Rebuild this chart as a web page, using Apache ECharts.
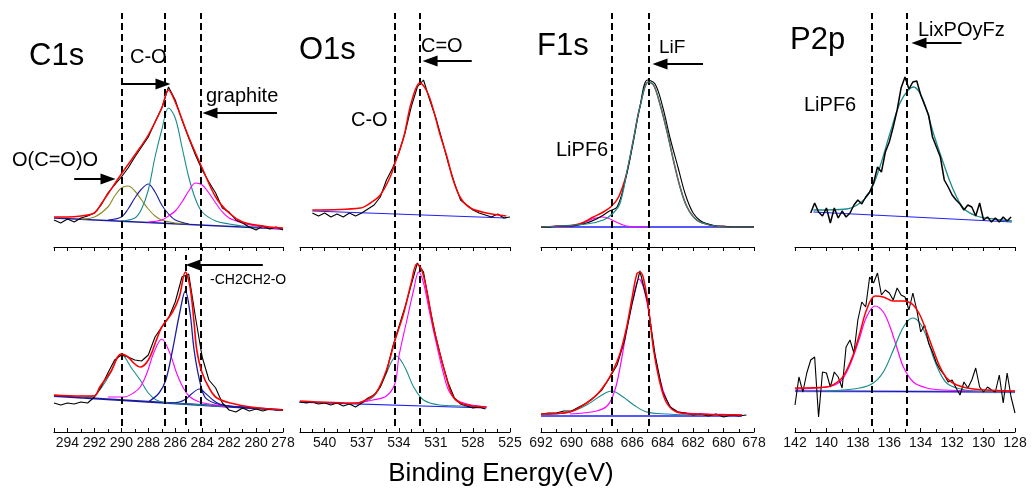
<!DOCTYPE html>
<html><head><meta charset="utf-8">
<script src="https://cdn.jsdelivr.net/npm/echarts@6/dist/echarts.min.js"></script>
<style>html,body{margin:0;padding:0;background:#fff}#c{width:1034px;height:493px}</style>
</head><body><div id="c"></div>
<script>
// ---------- C1s ----------
const c1sEnergy = [295,294.5,294,293.5,293,292.5,292,291.5,291,290.5,290,289.5,289,288.5,288,287.5,287,286.5,286,285.5,285,284.5,284,283.5,283,282.5,282,281.5,281,280.5,280,279.5,279,278.5,278];
const c1sTopRaw = [27,24,28,25,29,31,34,42,54,62,70,79,90,100,110,125,139,160,147,127,109,92,77,65,54,39,35,27,24,20,17,21,18,20,17];
const c1sTopEnvelope = [[295,30],[294,30],[293,31],[292,34],[291.5,43],[291,53],[290,73],[289,92],[288,112],[287,139],[286.5,157],[286,145],[285,110],[284,79],[283,50],[282,34],[281,25],[280,22],[279,20],[278,19]];
const c1sTopBaseline = [[295,29],[278,18]];
const c1sTopOCOO = [[293,28],[292,30],[291,40],[290.5,51],[290,59],[289.5,61],[289,56],[288.5,47],[288,38],[287.5,31],[287,27],[286,24],[285,23]];
const c1sTopPeak288 = [[291,27],[290,30],[289.5,38],[289,49],[288.5,58],[288,63],[287.5,55],[287,42],[286.5,33],[286,27],[285,23]];
const c1sTopCO = [[290,26],[289,29],[288.5,38],[288,57],[287.5,90],[287,117],[286.5,139],[286,129],[285.5,100],[285,70],[284.5,48],[284,35],[283,26],[282,23],[281,21],[280,20],[279,19]];
const c1sTopGraphite = [[288,25],[287,27],[286.5,31],[286,36],[285.5,45],[285,56],[284.5,64],[284,62],[283.5,54],[283,44],[282.5,35],[282,29],[281,24],[280,21],[279,19],[278,18]];

const c1sBotRaw = [29,27,29,28,30,29,35,45,59,72,77,75,72,71,77,95,105,114,130,155,158,115,75,52,44,29,22,20,24,21,23,21,23,22,22];
const c1sBotEnvelope = [[295,37],[293,36],[292,36],[291.6,45],[290.8,60],[290,78],[289.5,75],[289,68],[288.6,65],[288,72],[287.4,92],[287,105],[286.2,120],[285.7,135],[285.25,160],[284.9,145],[284.6,109],[284.4,82],[284,59],[283.4,42],[282.9,34],[281.9,29],[280.4,25],[278,22]];
const c1sBotBaseline = [[295,36],[278,22]];
const c1sBotOCOO = [[293,35],[292.1,36],[291.6,42],[290.8,59],[290.4,72],[290,78],[289.7,74],[289.3,65],[288.6,52],[288,39],[287.4,32],[286.5,29],[285,28],[284,27],[282,25]];
const c1sBotCO = [[291,35],[289.8,35],[289.1,39],[288.6,45],[288.1,59],[287.6,79],[287,93],[286.4,79],[285.9,59],[285.4,44],[284.9,35],[284.2,30],[283,27],[282,25]];
const c1sBotCH2 = [[288,30],[287.2,39],[286.7,52],[286.2,82],[285.67,119],[285.25,141],[284.9,119],[284.6,82],[284.2,52],[283.8,35],[283.1,29],[282,26],[281,25],[280,24]];
const c1sBotGraphite = [[286.5,29],[285.7,30],[285.2,33],[284.8,38],[284.2,43],[283.7,38],[283.2,32],[282.7,28],[281.5,25],[280,24]];

// ---------- O1s ----------
const o1sEnergy = [542,541.5,541,540.5,540,539.5,539,538.5,538,537.5,537,536.5,536,535.5,535,534.5,534,533.5,533,532.5,532,531.5,531,530.5,530,529.5,529,528.5,528,527.5,527,526.5,526,525.5,525];
const o1sTopRaw = [null,null,34,31,34,30,33,30,34,31,34,38,42,50,67,79,94,114,140,160,167,147,129,107,84,64,47,42,37,34,32,30,33,29,30];
const o1sTopEnvelope = [[541,37],[537.1,39],[536.3,44],[535.5,52],[534.7,70],[534.3,84],[533.6,110],[533,144],[532.3,164],[531.7,155],[531.2,137],[530.7,114],[530.1,90],[529.6,67],[529,49],[528.2,39],[526.9,34],[525.3,31]];
const o1sTopBaseline = [[541,36],[525.3,29]];
const o1sBotRaw = [30,29,30,28,29,27,29,26,28,25,29,34,37,45,60,85,105,125,147,169,160,125,95,70,49,34,28,26,24,25,23,null,null,null,null];
const o1sBotEnvelope = [[542,31],[537.4,29],[536.5,33],[535.8,40],[535,62],[534.3,92],[533.6,119],[533,149],[532.55,168],[532.15,162],[531.7,139],[531.2,105],[530.6,75],[530.1,52],[529.6,35],[528.8,28],[526.9,25]];
const o1sBotBaseline = [[542.3,30],[526.9,24]];
const o1sBotCO = [[538,28],[536.6,31],[535.8,39],[535,59],[534.6,70],[534.2,76],[533.8,71],[533.4,62],[532.8,45],[532,32],[530.7,27],[529,26],[527,25]];
const o1sBotCdO = [[538,28],[536.1,32],[535,36],[534.3,49],[534,75],[533.4,109],[532.8,142],[532.4,160],[532,149],[531.5,119],[530.9,85],[530.4,59],[529.9,40],[529,30],[526.9,25]];

// ---------- F1s ----------
const f1sEnergy = [692,691.5,691,690.5,690,689.5,689,688.5,688,687.5,687,686.5,686,685.5,685,684.5,684,683.5,683,682.5,682,681.5,681,680.5,680,679.5,679,678.5,678];
const f1sTopRaw = [20,20,21,21,21,22,24,27,31,36,40,64,100,140,167,163,140,108,80,52,34,26,23,21,21,20,20,20,20];
const f1sTopEnvelope = [[692,20],[690.5,21],[689.5,23],[688.56,30],[687.9,35],[687.35,41],[686.9,50],[686.4,72],[685.93,107],[685.5,140],[684.94,165],[684.6,162],[684.2,144],[683.74,117],[683.3,87],[682.86,60],[682.4,40],[681.77,27],[680.9,22],[679.8,20],[678,20]];
const f1sTopLiF = [[692,20],[689,23],[687.9,27],[687.25,34],[686.8,44],[686.37,74],[685.93,107],[685.5,140],[684.94,165],[684.6,162],[684.2,144],[683.74,117],[683.3,87],[682.86,60],[682.4,40],[681.77,27],[680.9,22],[679.8,20],[678,20]];
const f1sTopLiPF6 = [[691,20],[690.1,21],[689.4,23],[688.6,28],[688,30],[687.6,29],[687.2,26],[686.4,21],[685,20]];
const f1sTopBaseline = [[692,20],[678,20]];
const f1sBotRaw = [18,19,19,21,21,25,29,35,42,54,67,92,129,161,130,77,40,25,20,19,17,18,16,18,15,17,16,17,null];
const f1sBotEnvelope = [[692,18],[690.1,20],[689,29],[688.34,37],[687.68,50],[687.25,62],[686.8,79],[686.37,105],[686.04,132],[685.7,158],[685.5,160],[685.27,154],[684.94,125],[684.6,82],[684.18,49],[683.74,29],[683.08,20],[682,18],[678.8,17]];
const f1sBotMain = [[690.1,18],[688.34,21],[687.6,27],[687.14,42],[686.8,65],[686.37,102],[685.93,135],[685.55,153],[685.27,145],[684.94,122],[684.6,85],[684.18,52],[683.74,32],[683.3,22],[682.4,19],[681,18],[678.8,17]];
const f1sBotLiPF6 = [[692,17],[691.2,18],[690.1,20],[689,27],[688,37],[687.35,41],[686.6,35],[685.9,27],[685.05,20],[683.7,18],[682,17],[678.8,17]];
const f1sBotBaseline = [[692,16],[678.8,16]];

// ---------- P2p ----------
const p2pEnergy = [142,141.75,141.5,141.25,141,140.75,140.5,140.25,140,139.75,139.5,139.25,139,138.75,138.5,138.25,138,137.75,137.5,137.25,137,136.75,136.5,136.25,136,135.75,135.5,135.25,135,134.75,134.5,134.25,134,133.75,133.5,133.25,133,132.75,132.5,132.25,132,131.75,131.5,131.25,131,130.75,130.5,130.25,130,129.75,129.5,129.25,129,128.75,128.5,128.25,128];
const p2pTopRaw = [null,null,null,null,34,44,35,31,39,24,39,29,36,30,34,42,47,43,50,55,64,80,75,95,105,120,137,159,170,158,165,166,152,142,132,110,100,90,67,60,52,47,43,37,42,40,31,44,27,30,25,29,25,30,26,30,null];
const p2pTopFit = [[140.83,37],[138.71,38],[137.86,44],[137.23,55],[136.6,80],[135.95,114],[135.32,144],[134.79,157],[134.47,160],[134.05,154],[133.62,137],[133.2,114],[132.56,84],[131.92,57],[131.29,39],[130.44,31],[129.38,28],[128.2,26]];
const p2pTopBaseline = [[140.83,35],[128.2,25]];
const p2pBotRaw = [27,55,40,59,72,75,15,60,59,45,60,55,44,85,92,79,112,130,125,155,149,159,137,142,139,132,144,137,135,122,139,122,100,107,89,80,69,62,57,50,52,44,37,50,44,52,64,45,40,45,42,40,57,29,59,35,19];
const p2pBotEnvelope = [[142,44],[139.98,45],[139.14,52],[138.71,62],[138.3,77],[137.87,99],[137.45,122],[136.91,136],[136.38,135],[135.74,131],[135.1,131],[134.79,130],[134.47,127],[134.05,117],[133.62,100],[133.2,82],[132.77,65],[132.35,54],[131.71,47],[130.65,43],[128,41]];
const p2pBotLiPF6 = [[142,43],[139.98,45],[139.14,50],[138.71,60],[138.3,75],[137.87,95],[137.45,115],[136.91,126],[136.38,120],[135.95,105],[135.53,85],[135.1,65],[134.47,50],[133.62,44],[132.56,42],[128,40]];
const p2pBotLixPOyFz = [[139.98,41],[137.87,44],[137.02,49],[136.38,60],[135.74,82],[135.1,105],[134.51,114],[134.05,109],[133.62,95],[133.2,75],[132.77,59],[132.35,49],[131.71,44],[130.65,41],[128,40]];
const p2pBotBaseline = [[142,41],[128,40]];

// reference positions (eV)
const c1sRefs = [290, 286.75, 284.09];
const c1sBotRef = [285.2];
const o1sRefs = [534.3, 532.3];
const f1sRefs = [687.35, 684.95];
const p2pRefs = [137.1, 134.87];

// axis ranges [min, max, interval, minor split]
const c1sAxis = [278, 295, 2, 2];
const o1sAxis = [525, 542, 3, 3];
const f1sAxis = [678, 692, 2, 2];
const p2pAxis = [128, 142, 2, 2];

const FONT = "'Liberation Sans', Arial, sans-serif";
const COL = {black:'#000000', red:'#ff0000', teal:'#1a8c8c', magenta:'#ff00ff', navy:'#1c1ca0', olive:'#8c8c1c', blue:'#2020ff', lav:'#a0a0ff'};

const cols = [
  {left:54, width:229, ax:c1sAxis, hideMax:true},
  {left:300, width:210, ax:o1sAxis, hideMax:true},
  {left:541, width:213, ax:f1sAxis, hideMax:false},
  {left:795, width:220, ax:p2pAxis, hideMax:false}
];
const TOP = {top:14, height:233};
const BOT = {top:252, height:180};
const OVL = {top:13, height:413};

const grids = [], xAxes = [], yAxes = [];
function addAxes(kind, geo) {
  cols.forEach(c => {
    const gi = grids.length;
    grids.push({left:c.left, width:c.width, top:geo.top, height:geo.height, containLabel:false});
    const ax = {type:'value', gridIndex:gi, min:c.ax[0], max:c.ax[1], interval:c.ax[2], inverse:true, splitLine:{show:false}};
    if (kind === 'ovl') { ax.show = false; }
    else {
      ax.axisLine = {show:true, onZero:false, lineStyle:{color:'#000', width:1}};
      ax.axisTick = {show:true, inside: kind==='bot', length:4, lineStyle:{color:'#000', width:1}};
      ax.minorTick = {show:true, splitNumber:c.ax[3], length:3, lineStyle:{color:'#000', width:1}};
      ax.axisLabel = {show: kind==='bot', fontSize:14, color:'#111', margin:4, fontFamily:FONT, showMaxLabel: !c.hideMax, showMinLabel:true};
    }
    xAxes.push(ax);
    yAxes.push({type:'value', gridIndex:gi, min:0, max:geo.height, show:false});
  });
}
addAxes('top', TOP); addAxes('bot', BOT); addAxes('ovl', OVL);

const S = [];
function zip(E, v) { return E.map((e, i) => [e, v[i]]); }
function L(gi, data, color, width, z, smooth, extra) {
  const s = {type:'line', xAxisIndex:gi, yAxisIndex:gi, data:data, symbol:'none', showSymbol:false,
    smooth: smooth ? 0.35 : false, lineStyle:{color:color, width:width}, z:z, silent:true, connectNulls:false, animation:false};
  if (extra) Object.assign(s, extra);
  S.push(s);
}
function arrows(list) {
  return {markLine:{silent:true, animation:false, symbol:['none','triangle'], symbolSize:[11,15],
    label:{show:false}, lineStyle:{color:'#000', width:2, type:'solid'},
    data: list.map(a => [{coord:[a[0], a[2]]}, {coord:[a[1], a[2]]}])}};
}
// arrows: [fromE, toE, y]
const c1sTopArrows = [[289.9, 286.91, 163], [278.45, 283.42, 134], [293.5, 290.99, 68]];
const c1sBotArrows = [[279.5, 284.68, 167]];
const o1sTopArrows = [[528.1, 531.47, 186]];
const f1sTopArrows = [[681.35, 684.18, 183]];
const p2pTopArrows = [[131.4, 134.11, 204]];

// C1s top (grid 0)
L(0, c1sTopBaseline, COL.navy, 1.6, 2, false, arrows(c1sTopArrows));
L(0, c1sTopOCOO, COL.olive, 1.1, 3, true);
L(0, c1sTopPeak288, COL.navy, 1.1, 3, true);
L(0, c1sTopCO, COL.teal, 1.1, 3, true);
L(0, c1sTopGraphite, COL.magenta, 1.1, 3, true);
L(0, zip(c1sEnergy, c1sTopRaw), COL.black, 1.1, 4, false);
L(0, c1sTopEnvelope, COL.red, 1.5, 5, true);
// C1s bottom (grid 4)
L(4, c1sBotBaseline, COL.navy, 1.8, 2, false, arrows(c1sBotArrows));
L(4, c1sBotOCOO, COL.teal, 1.1, 3, true);
L(4, c1sBotCO, COL.magenta, 1.1, 3, true);
L(4, c1sBotCH2, COL.navy, 1.3, 3, true);
L(4, c1sBotGraphite, COL.navy, 1.1, 3, true);
L(4, zip(c1sEnergy, c1sBotRaw), COL.black, 1.1, 4, false);
L(4, c1sBotEnvelope, COL.red, 1.6, 5, true);
S.push({type:'line', xAxisIndex:4, yAxisIndex:4, data:[], z:10, silent:true,
  markLine:{silent:true, animation:false, symbol:'none', label:{show:false}, lineStyle:{color:'#000', width:2, type:[7,4]},
    data: c1sBotRef.map(e => [{coord:[e, 7]}, {coord:[e, 177]}])}});

// O1s top (grid 1)
L(1, o1sTopBaseline, COL.blue, 1.2, 2, false, arrows(o1sTopArrows));
L(1, zip(o1sEnergy, o1sTopRaw), COL.black, 1.1, 4, false);
L(1, o1sTopEnvelope, COL.red, 1.5, 5, true);
// O1s bottom (grid 5)
L(5, o1sBotBaseline, COL.blue, 1.2, 2, false);
L(5, o1sBotCO, COL.teal, 1.1, 3, true);
L(5, o1sBotCdO, COL.magenta, 1.1, 3, true);
L(5, zip(o1sEnergy, o1sBotRaw), COL.black, 1.1, 4, false);
L(5, o1sBotEnvelope, COL.red, 1.5, 5, true);

// F1s top (grid 2)
L(2, f1sTopBaseline, COL.blue, 1.6, 2, false, arrows(f1sTopArrows));
L(2, f1sTopLiPF6, COL.magenta, 1.1, 3, true);
L(2, f1sTopEnvelope, COL.red, 1.5, 4, true);
L(2, zip(f1sEnergy, f1sTopRaw), COL.black, 1.1, 5, true);
L(2, f1sTopLiF, COL.teal, 1.2, 6, true);
// F1s bottom (grid 6)
L(6, f1sBotBaseline, COL.blue, 1.6, 2, false);
L(6, f1sBotLiPF6, COL.teal, 1.1, 3, true);
L(6, f1sBotMain, COL.magenta, 1.2, 3, true);
L(6, zip(f1sEnergy, f1sBotRaw), COL.black, 1.1, 4, false);
L(6, f1sBotEnvelope, COL.red, 1.5, 5, true);

// P2p top (grid 3)
L(3, p2pTopBaseline, COL.blue, 1.2, 2, false, arrows(p2pTopArrows));
L(3, p2pTopFit, COL.teal, 1.3, 3, true);
L(3, zip(p2pEnergy, p2pTopRaw), COL.black, 1.5, 4, false);
// P2p bottom (grid 7)
L(7, p2pBotBaseline, COL.lav, 2.5, 1, false);
L(7, p2pBotBaseline, COL.navy, 1.2, 2, false);
L(7, p2pBotLiPF6, COL.magenta, 1.2, 3, true);
L(7, p2pBotLixPOyFz, COL.teal, 1.2, 3, true);
L(7, zip(p2pEnergy, p2pBotRaw), COL.black, 1.1, 4, false);
L(7, p2pBotEnvelope, COL.red, 1.5, 5, true);

// dashed reference lines (overlay grids 8..11)
[c1sRefs, o1sRefs, f1sRefs, p2pRefs].forEach((refs, i) => {
  S.push({type:'line', xAxisIndex:8+i, yAxisIndex:8+i, data:[], z:10, silent:true,
    markLine:{silent:true, animation:false, symbol:'none', label:{show:false},
      lineStyle:{color:'#000', width:2, type:[7,4]}, data: refs.map(e => ({xAxis:e}))}});
});

function T(text, x, y, size, align) {
  return {type:'text', x:x, y:y, silent:true,
    style:{text:text, fontSize:size, fontFamily:FONT, fill:'#000', textAlign:align||'left', textVerticalAlign:'middle'}};
}
const texts = [
  T('C1s', 29, 56, 31), T('C-O', 130, 57, 20), T('graphite', 206, 96, 20), T('O(C=O)O', 12, 160, 20), T('-CH2CH2-O', 210, 280, 14),
  T('O1s', 299, 50, 31), T('C=O', 421, 46, 20), T('C-O', 351, 120, 20),
  T('F1s', 537, 46, 31), T('LiF', 659, 48, 19), T('LiPF6', 556, 150, 20),
  T('P2p', 790, 40, 31), T('LixPOyFz', 918, 30, 20), T('LiPF6', 804, 105, 20),
  T('Binding Energy(eV)', 501, 474, 26, 'center')
];

const chart = echarts.init(document.getElementById('c'), null, {renderer:'canvas'});
chart.setOption({
  animation:false, backgroundColor:'#ffffff',
  grid:grids, xAxis:xAxes, yAxis:yAxes, series:S, graphic:texts
});
</script></body></html>
